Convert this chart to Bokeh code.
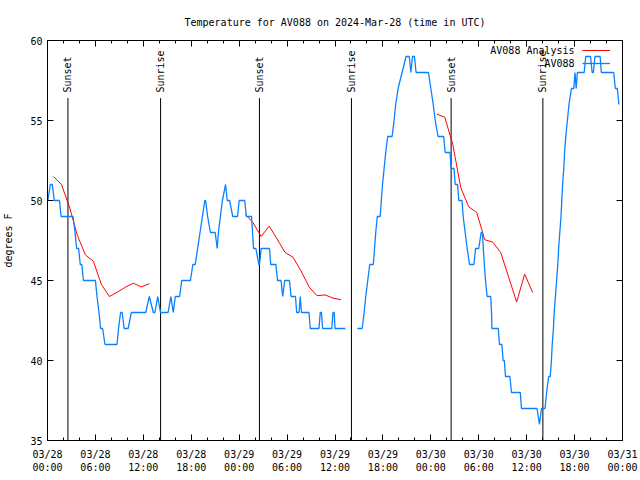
import numpy as np
from bokeh.plotting import figure
from bokeh.models import Range1d, FixedTicker, LinearAxis, Legend, LegendItem, Label
from bokeh.core.properties import value
from bokeh.embed import file_html
from bokeh.resources import INLINE

FONT = "DejaVu Sans Mono"

# ---------------- data (hours after 2024-03-28 00:00 UTC) ----------------
title_text = "Temperature for AV088 on 2024-Mar-28 (time in UTC)"
series_obs = "AV088"
series_ana = "AV088 Analysis"

x_tick_hours = [0, 6, 12, 18, 24, 30, 36, 42, 48, 54, 60, 66, 72]
x_tick_labels = ["03/28\n00:00", "03/28\n06:00", "03/28\n12:00", "03/28\n18:00",
                 "03/29\n00:00", "03/29\n06:00", "03/29\n12:00", "03/29\n18:00",
                 "03/30\n00:00", "03/30\n06:00", "03/30\n12:00", "03/30\n18:00",
                 "03/31\n00:00"]
x_minor_tick_hours = list(range(0, 73, 2))
y_tick_values = [35, 40, 45, 50, 55, 60]

event_hours = [2.56, 14.16, 26.54, 38.06, 50.54, 62.03]
event_labels = ["Sunset", "Sunrise", "Sunset", "Sunrise", "Sunset", "Sunrise"]

# observed temperature (F), two runs separated by a gap
obs_hours_1 = [0.05, 0.35, 0.6, 0.85, 1.5, 1.7, 3.2, 3.45, 3.65, 3.9, 4.1, 4.3, 4.5, 6.0, 6.2, 6.45,
               6.65, 6.9, 7.2, 8.7, 8.9, 9.15, 9.35, 9.6, 10.1, 10.5, 12.3, 12.75, 13.25, 13.45,
               13.8, 14.15, 15.1, 15.45, 15.75, 16.0, 16.55, 16.8, 17.9, 18.2, 18.5, 18.8, 19.1,
               19.4, 19.7, 19.8, 20.05, 20.4, 21.0, 21.25, 21.4, 21.65, 21.9, 22.3, 22.5, 22.8,
               23.2, 23.8, 24.0, 24.7, 24.9, 25.55, 25.8, 26.1, 26.45, 26.55, 26.75, 27.8,
               27.95, 28.6, 28.8, 29.25, 29.45, 29.7, 30.3, 30.5, 31.05, 31.2, 31.5, 31.65,
               31.8, 32.75, 32.9, 34.0, 34.15, 34.3, 34.45, 35.6, 35.75, 35.9, 36.0, 37.3]
obs_temps_1 = [50, 51, 51, 50, 50, 49, 49, 48, 47, 47, 46, 46, 45, 45, 44, 43,
               42, 42, 41, 41, 42, 43, 43, 42, 42, 43, 43, 44, 43, 43,
               44, 43, 43, 44, 43, 44, 44, 45, 45, 46, 46, 47, 48,
               49, 50, 50, 49, 48, 48, 47, 48, 49, 50, 51, 50, 50,
               49, 49, 50, 50, 49, 49, 47, 47, 46, 46, 47, 47,
               46, 46, 45, 45, 44, 45, 45, 44, 44, 43, 43, 44,
               43, 43, 42, 42, 43, 43, 42, 42, 43, 43, 42, 42]
obs_hours_2 = [38.8, 39.4, 39.65, 39.85, 40.1, 40.35, 40.8, 40.95, 41.1, 41.3, 41.65, 41.8, 41.95,
               42.15, 42.35, 42.6, 43.15, 43.4, 43.6, 43.9, 44.4, 44.9, 45.3, 45.5, 45.7, 45.95,
               46.15, 47.7, 48.0, 48.3, 48.55, 48.9, 49.6, 49.8, 50.4, 50.55, 50.9, 51.05, 51.35,
               51.5, 51.9, 52.05, 52.3, 52.55, 52.85, 53.4, 53.6, 54.0, 54.3, 54.45, 54.7, 54.85,
               55.05, 55.5, 55.6, 55.65, 56.45, 56.6, 56.9, 57.05, 57.2, 57.35, 57.9, 58.1, 59.2,
               59.35, 61.3, 61.6, 61.85, 62.3, 62.5, 62.75, 62.95, 63.1, 63.2, 63.35, 63.45, 63.6,
               63.75, 63.9, 64.0, 64.15, 64.3, 64.4, 64.5, 64.65, 64.75, 64.9, 65.1, 65.3, 65.6,
               65.9, 66.05, 66.2, 66.35, 67.2, 67.4, 68.0, 68.2, 68.35, 68.55, 69.2, 69.35, 70.9,
               71.1, 71.35, 71.55]
obs_temps_2 = [42, 42, 43, 44, 45, 46, 46, 47, 48, 49, 49, 50, 51,
               52, 53, 54, 54, 55, 56, 57, 58, 59, 59, 58, 59, 59,
               58, 58, 57, 56, 55, 54, 54, 53, 53, 52, 52, 51, 51,
               50, 50, 49, 48, 47, 46, 46, 47, 47, 48, 48, 46, 45,
               44, 44, 43, 42, 42, 41, 41, 40, 40, 39, 39, 38, 38,
               37, 37, 36, 37, 37, 38, 39, 39, 40, 41, 42, 43, 44,
               45, 46, 47, 48, 49, 50, 51, 52, 53, 54, 55, 56, 57,
               57, 58, 57, 58, 58, 59, 59, 58, 58, 59, 59, 58, 58,
               57, 57, 56]

# analysis temperature (F), hourly, three runs
ana_hours_1 = [0.75, 1.75, 2.75, 3.75, 4.75, 5.75, 6.75, 7.75, 8.75, 9.75, 10.75, 11.75, 12.75]
ana_temps_1 = [51.5, 51.0, 49.6, 47.8, 46.6, 46.2, 44.75, 44.0, 44.27, 44.58, 44.83, 44.6, 44.8]
ana_hours_2 = [24.75, 25.75, 26.75, 27.75, 28.75, 29.75, 30.75, 31.75, 32.75, 33.75, 34.75, 35.75, 36.75]
ana_temps_2 = [49.15, 48.6, 47.75, 48.4, 47.6, 46.75, 46.45, 45.6, 44.6, 44.05, 44.1, 43.9, 43.8]
ana_hours_3 = [48.75, 49.75, 50.75, 51.75, 52.75, 53.75, 54.75, 55.75, 56.75, 57.75, 58.75, 59.75, 60.75]
ana_temps_3 = [55.4, 55.2, 53.5, 50.8, 49.6, 49.25, 47.55, 47.4, 46.75, 45.2, 43.65, 45.4, 44.25]

# ---------------- build arrays with gaps ----------------
nan = float("nan")
obs_x = np.array(obs_hours_1 + [nan] + obs_hours_2, dtype=float)
obs_y = np.array(obs_temps_1 + [nan] + obs_temps_2, dtype=float)
ana_x = np.array(ana_hours_1 + [nan] + ana_hours_2 + [nan] + ana_hours_3, dtype=float)
ana_y = np.array(ana_temps_1 + [nan] + ana_temps_2 + [nan] + ana_temps_3, dtype=float)

BLUE = "#0a80ff"
RED = "#ff0000"

p = figure(width=640, height=480, output_backend="svg", toolbar_location=None,
           x_range=Range1d(0, 72), y_range=Range1d(35, 60),
           min_border_left=46, min_border_right=18, min_border_top=40, min_border_bottom=40,
           title=title_text)

p.title.align = "center"
p.title.text_font = FONT
p.title.text_font_size = "10px"
p.title.text_font_style = "normal"
p.title.text_color = "black"
p.title.standoff = 26

p.xgrid.visible = False
p.ygrid.visible = False
p.outline_line_color = "black"
p.outline_line_width = 1
p.background_fill_color = "white"
p.border_fill_color = "white"

# bottom axis
xa = p.xaxis[0]
xa.ticker = FixedTicker(ticks=x_tick_hours, minor_ticks=x_minor_tick_hours)
xa.major_label_overrides = dict(zip(x_tick_hours, x_tick_labels))
xa.major_label_text_font = FONT
xa.major_label_text_font_size = "10px"
xa.major_label_text_color = "black"
xa.major_label_standoff = 8
xa.major_tick_in = 6
xa.major_tick_out = 0
xa.minor_tick_in = 3
xa.minor_tick_out = 0
xa.axis_line_color = "black"
xa.major_tick_line_color = "black"
xa.minor_tick_line_color = "black"

# left axis
ya = p.yaxis[0]
ya.ticker = FixedTicker(ticks=y_tick_values, minor_ticks=[])
ya.major_label_text_font = FONT
ya.major_label_text_font_size = "10px"
ya.major_label_text_color = "black"
ya.major_label_standoff = 5
ya.major_tick_in = 6
ya.major_tick_out = 0
ya.minor_tick_line_color = None
ya.axis_line_color = "black"
ya.major_tick_line_color = "black"
ya.axis_label = "degrees F"
ya.axis_label_text_font = FONT
ya.axis_label_text_font_size = "10px"
ya.axis_label_text_font_style = "normal"
ya.axis_label_text_color = "black"
ya.axis_label_standoff = 13

# mirrored tick axes (ticks only, empty labels)
top = LinearAxis(ticker=FixedTicker(ticks=x_tick_hours, minor_ticks=x_minor_tick_hours),
                 major_label_overrides={t: "" for t in x_tick_hours},
                 major_label_text_font=FONT, major_label_text_font_size="10px", major_label_standoff=0,
                 major_tick_in=6, major_tick_out=0, minor_tick_in=3, minor_tick_out=0,
                 axis_line_color="black", major_tick_line_color="black", minor_tick_line_color="black")
p.add_layout(top, "above")
right = LinearAxis(ticker=FixedTicker(ticks=y_tick_values, minor_ticks=[]),
                   major_label_overrides={t: "" for t in y_tick_values},
                   major_label_text_font=FONT, major_label_text_font_size="10px", major_label_standoff=0,
                   major_tick_in=6, major_tick_out=0, minor_tick_line_color=None,
                   axis_line_color="black", major_tick_line_color="black")
p.add_layout(right, "right")

# sunrise / sunset markers
EVENT_TOP = 56.4
LABEL_BASE = 56.75
p.segment(x0=event_hours, y0=[35] * len(event_hours), x1=event_hours, y1=[EVENT_TOP] * len(event_hours),
          line_color="black", line_width=1)
p.text(x=event_hours, y=[LABEL_BASE] * len(event_hours), text=event_labels, angle=np.pi / 2,
       text_align="left", text_baseline="middle", text_font=value(FONT), text_font_size="10px",
       text_color="black")

# data lines
r_ana = p.line(ana_x, ana_y, line_color=RED, line_width=1)
r_obs = p.line(obs_x, obs_y, line_color=BLUE, line_width=1.3)

# legend: gnuplot style (text left, sample right)
legend = Legend(items=[LegendItem(label=" ", renderers=[r_ana]),
                       LegendItem(label=" ", renderers=[r_obs])],
                location="top_right", margin=4, padding=0, spacing=1,
                label_standoff=8, label_width=0, label_height=12,
                glyph_width=28, glyph_height=12,
                label_text_font=FONT, label_text_font_size="10px",
                background_fill_alpha=0, border_line_color=None)
p.add_layout(legend)
for txt, yv in [(series_ana, 59.375), (series_obs, 58.5625)]:
    p.add_layout(Label(x=66.0, y=yv, text=txt, text_align="right", text_baseline="middle",
                       text_font=FONT, text_font_size="10px", text_color="black"))

open("out.html", "w").write(file_html(p, INLINE))
